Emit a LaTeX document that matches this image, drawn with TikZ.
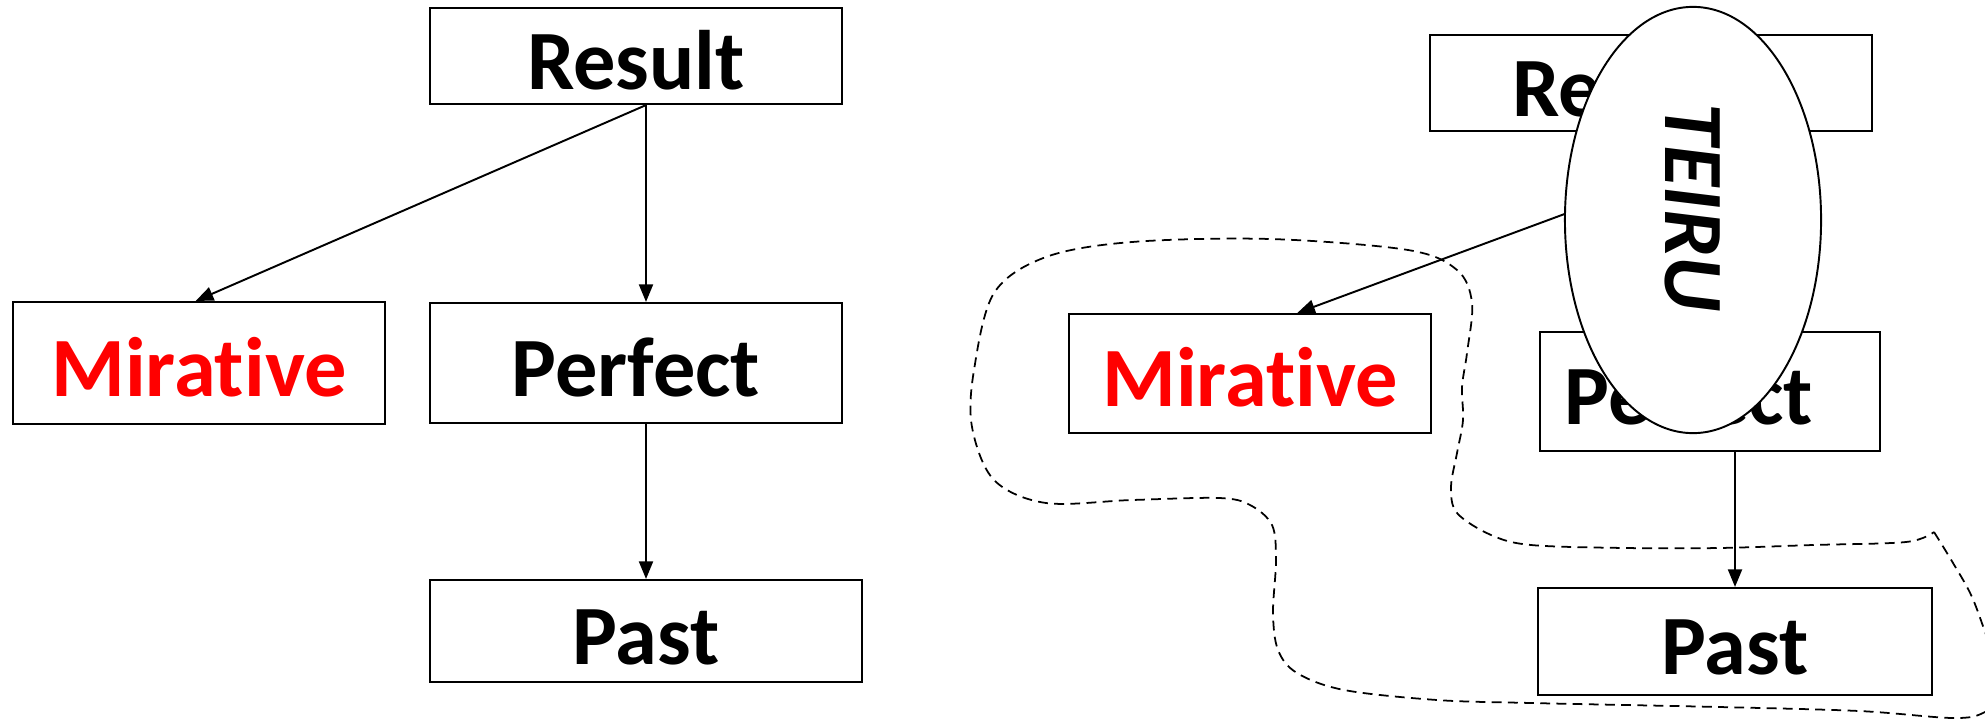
\documentclass[tikz,border=0pt]{standalone}
\usepackage{fontspec}
\setmainfont{Carlito}[Ligatures=NoCommon]
\usepackage{tikz}
\usetikzlibrary{arrows.meta,shapes.geometric}
\definecolor{mirred}{RGB}{255,0,0}

\begin{document}
\begin{tikzpicture}[x=0.01cm, y=-0.01cm,
    every node/.style={font=\fontsize{24}{28}\selectfont\bfseries},
    cat/.style={draw, line width=0.6pt, fill=white, inner sep=0pt,
      text height=19pt, text depth=0pt},
    arr/.style={-{Triangle[length=5pt,width=4pt]}, line width=0.55pt}]
  \useasboundingbox (0,0) rectangle (1985,721);
  % Left tree
  \node[cat, minimum width=4.12cm, minimum height=0.96cm] (resL) at (636,56) {Result};
  \node[cat, minimum width=3.72cm, minimum height=1.22cm, text=mirred] (mirL) at (199,363) {Mirative};
  \node[cat, minimum width=4.12cm, minimum height=1.20cm] (perfL) at (636,363) {Perfect};
  \node[cat, minimum width=4.32cm, minimum height=1.02cm] (pastL) at (646,631) {Past};
  \draw[arr] (resL.south -| pastL.north) -- (mirL.93);
  \draw[arr] (resL.south -| pastL.north) -- (perfL.north -| pastL.north);
  \draw[arr] (perfL.south -| pastL.north) -- (pastL.north);
  % Right tree
  \node[cat, minimum height=0.96cm, text width=2.77cm, align=left, inner xsep=0.82cm] (resR) at (1651,83) {Result};
  \node[cat, minimum width=3.62cm, minimum height=1.19cm, text=mirred] (mirR) at (1250,373.5) {Mirative};
  \node[cat, minimum height=1.19cm, text width=2.90cm, align=left, inner xsep=0.25cm] (perfR) at (1710,391.5) {Perfect};
  \node[cat, minimum width=3.93cm, minimum height=1.07cm] (pastR) at (1735,641.5) {Past};
  \draw[arr] (resR.-20) -- (mirR.52);
  \draw[arr] (perfR.south -| pastR.north) -- (pastR.north);
  % TEIRU ellipse on top
  \node[draw, ellipse, line width=0.55pt, fill=white, inner sep=0pt, rotate=-90,
    minimum width=4.26cm, minimum height=2.56cm, font=\fontsize{24}{28}\selectfont\bfseries\itshape]
    (teiru) at (1693,220) {TEIRU\kern0.24cm};
  % Dashed region
  \begin{scope}
    \clip (0,0) rectangle (1985,721);
    \draw[dashed, dash pattern=on 2.8pt off 1.8pt, line width=0.5pt]
      plot[smooth, tension=0.55] coordinates {
        (1934,532) (1953,563) (1972,597) (1990,645) (2010,690) (1985,712)
        (1953,718) (1859,711) (1719,707) (1531,703) (1437,700) (1344,690)
        (1297,673) (1278,650) (1273,613) (1276,560) (1272,525) (1250,505)
        (1219,498) (1132,500) (1046,503) (994,480) (972,427) (974,370)
        (994,293) (1046,257) (1132,242) (1270,239) (1408,250) (1457,270)
        (1472,303) (1467,353) (1462,387) (1463,420) (1457,453) (1451,487)
        (1457,513) (1491,535) (1531,545) (1625,548) (1719,548) (1813,545)
        (1906,542) (1934,532)};
  \end{scope}
\end{tikzpicture}
\end{document}
